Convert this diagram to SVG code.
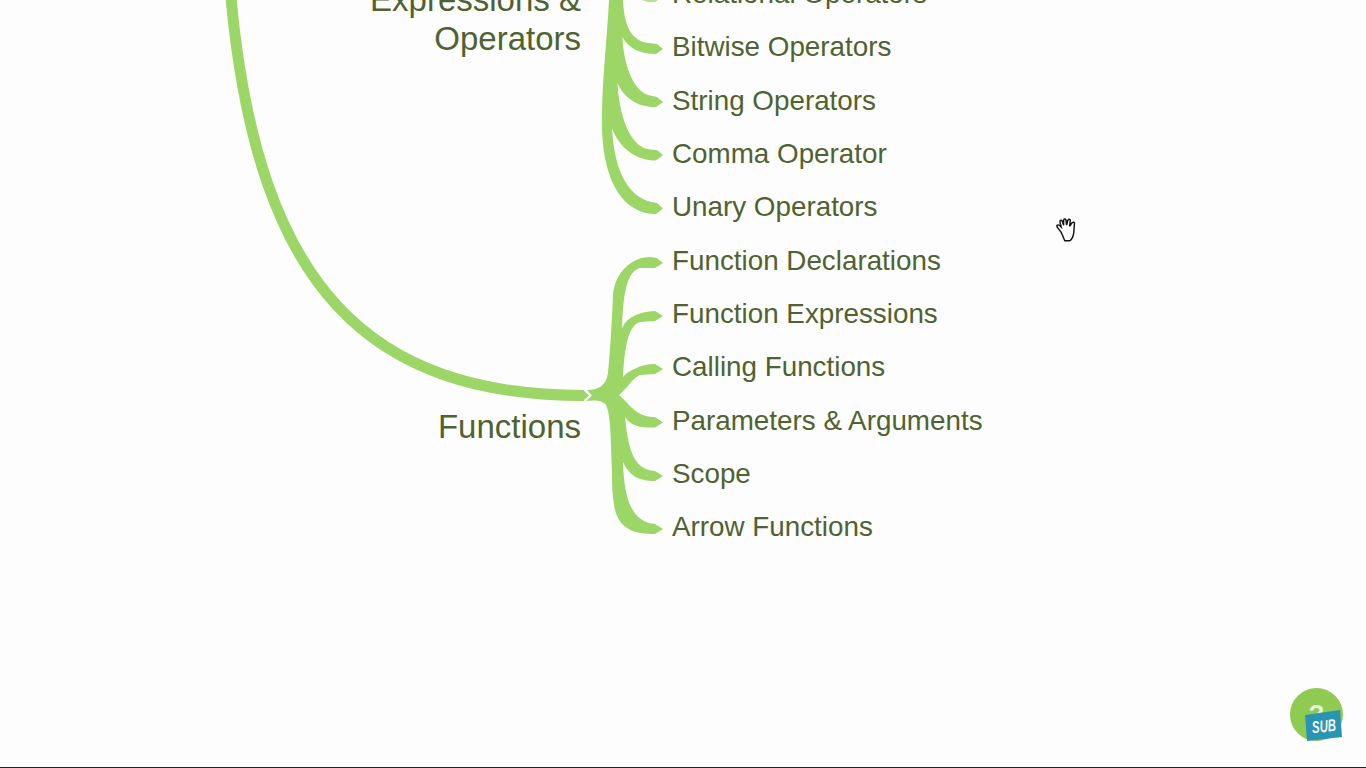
<svg xmlns="http://www.w3.org/2000/svg" width="1366" height="768" viewBox="0 0 1366 768">
<style>
.leaf{font-family:"Liberation Sans",Arial,sans-serif;font-size:27.8px;fill:#4f6230}
.topic{font-family:"Liberation Sans",Arial,sans-serif;font-size:33px;fill:#4f6230;text-anchor:end}
.fill{fill:#9bd667}
</style>
<rect width="1366" height="768" fill="#fdfdfd"/>
<g id="connectors">
<path d="M231 -2C258 290 370 395 584 395.500" fill="none" stroke="#9bd667" stroke-width="11"/>
<path class="fill" d="M578 390L583 390L589 395.500L583 401L578 401Z"/>
<path class="fill" d="M623 0C624 20 628 38 645 42.500L657 44L663 49L656 54C640 54 628 48 622.500 37C623 60 632 92 650 95.500L657 97L663 102L656 107C638 107.500 624 98 617.500 83C619 115 630 148 650 149.500L657 150L663 155L656 160.500C638 160.500 620 150 612 128C614 170 628 200 657 203L663 208.500L656 214C625 214 604 185 602 130C601 90 607 40 609 0Z"/>
<path class="fill" opacity="0.7" d="M642 0L658 0L655 2L648 2Z"/>
<path class="fill" d="M587 390C598 390 606 386 608 373C610 355 612 320 613 295C615 272 632 257 650 257L657 258L663 263L655 268L640 268C628 271 623 290 622 329C625 320 635 312 655 311L663 316L655 321L640 322C630 325 625 340 623 377C627 372 640 364 655 364L663 369L655 374L640 375C632 378 628 388 619 395C628 402 636 418 655 417L663 422.500L655 427.500C640 428 631 426 625 417C628 445 632 470 655 471L663 476L655 481C640 481 630 477 623 462C624 495 630 522 655 524L663 529L655 534C635 534 618 530 614 505C612 490 612 480 612 473C611 450 611 430 609 417C608 408 606 404 604 403C600 400 596 400 586 401L592 395.500Z"/>
</g>
<g id="node-expressions"><text class="topic" x="581" y="11">Expressions &amp;</text><text class="topic" x="581" y="50">Operators</text></g>
<g id="node-functions"><text class="topic" x="581" y="438">Functions</text></g>
<g id="node-relational"><text class="leaf" x="672" y="3">Relational Operators</text></g>
<g id="node-bitwise"><text class="leaf" x="672" y="56">Bitwise Operators</text></g>
<g id="node-string"><text class="leaf" x="672" y="110">String Operators</text></g>
<g id="node-comma"><text class="leaf" x="672" y="163">Comma Operator</text></g>
<g id="node-unary"><text class="leaf" x="672" y="216">Unary Operators</text></g>
<g id="node-declarations"><text class="leaf" x="672" y="270">Function Declarations</text></g>
<g id="node-expressions-fn"><text class="leaf" x="672" y="323">Function Expressions</text></g>
<g id="node-calling"><text class="leaf" x="672" y="376">Calling Functions</text></g>
<g id="node-parameters"><text class="leaf" x="672" y="430">Parameters &amp; Arguments</text></g>
<g id="node-scope"><text class="leaf" x="672" y="483">Scope</text></g>
<g id="node-arrow"><text class="leaf" x="672" y="536">Arrow Functions</text></g>
<g id="cursor" transform="translate(1066 230) scale(1.2) translate(-1066 -230)">
<path d="M1062 232L1059 228C1057.500 226 1059 225 1061 226.500L1062 227.500L1061 223.500C1060.700 221.500 1062.500 221.500 1063 223L1064 226L1064 222C1064 220.500 1066 220.500 1066 222L1066.500 226L1067.500 222C1068 220.500 1070 221 1069.500 222.500L1069 227L1071 224C1072 223 1073.500 223.500 1073 225L1072.500 232C1072 236 1071 238 1069 239L1065 239C1064 237 1063 234 1062 232Z" fill="#fff" stroke="#111" stroke-width="1.200"/>
</g>
<g id="badge">
<circle cx="1316.500" cy="714.500" r="26.500" fill="#8fcb53"/>
<text x="1316.500" y="723" text-anchor="middle" font-family="Liberation Sans, Arial, sans-serif" font-weight="bold" font-size="26" fill="#e6f3d8">?</text>
<path d="M1305 715L1340 710L1342 737L1307 741Z" fill="#2a94b4"/>
<text x="1324" y="732" text-anchor="middle" textLength="24" lengthAdjust="spacingAndGlyphs" transform="rotate(-6 1324 727)" font-family="Liberation Sans, Arial, sans-serif" font-weight="bold" font-style="italic" font-size="17" fill="#f3f7e6">SUB</text>
</g>
<rect x="0" y="767" width="1366" height="1" fill="#222"/>
</svg>
